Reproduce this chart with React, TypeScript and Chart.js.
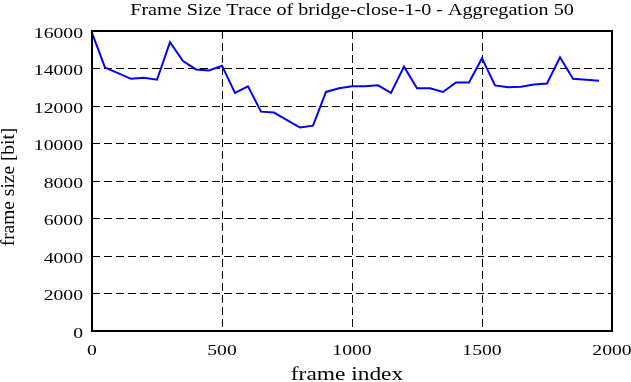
import React, { useEffect, useRef } from "react";
import { Chart, registerables } from "chart.js";

Chart.register(...registerables);

const frameIndex: number[] = [
  0, 50, 100, 150, 200, 250, 300, 350, 400, 450,
  500, 550, 600, 650, 700, 750, 800, 850, 900, 950,
  1000, 1050, 1100, 1150, 1200, 1250, 1300, 1350, 1400, 1450,
  1500, 1550, 1600, 1650, 1700, 1750, 1800, 1850, 1900, 1950,
];
const frameSize: number[] = [
  15900, 14050, 13750, 13450, 13500, 13400, 15400, 14400, 13950, 13900,
  14150, 12700, 13050, 11700, 11650, 11250, 10850, 10950, 12750, 12950,
  13050, 13050, 13100, 12700, 14100, 12950, 12950, 12750, 13250, 13250,
  14550, 13100, 13000, 13030, 13150, 13200, 14600, 13450, 13400, 13350,
];
const xTicks: number[] = [0, 500, 1000, 1500, 2000];
const yTicks: number[] = [0, 2000, 4000, 6000, 8000, 10000, 12000, 14000, 16000];
const titleText = "Frame Size Trace of bridge-close-1-0 - Aggregation 50";
const xTitle = "frame index";
const yTitle = "frame size [bit]";

const FONT = '"Liberation Serif", "Times New Roman", serif';

function drawStretched(
  ctx: CanvasRenderingContext2D,
  text: string,
  x: number,
  y: number,
  size: number,
  sx: number,
  align: "left" | "center" | "right"
) {
  ctx.save();
  ctx.font = `${size}px ${FONT}`;
  ctx.fillStyle = "#000";
  ctx.textBaseline = "alphabetic";
  const w = ctx.measureText(text).width * sx;
  let left = x;
  if (align === "center") left = x - w / 2;
  else if (align === "right") left = x - w;
  ctx.translate(left, y);
  ctx.scale(sx, 1);
  ctx.textAlign = "left";
  ctx.fillText(text, 0, 0);
  ctx.restore();
}

const textPlugin = {
  id: "gnuplotText",
  afterDraw(chart: any) {
    const ctx: CanvasRenderingContext2D = chart.ctx;
    const area = chart.chartArea;
    const xs = chart.scales.x;
    const ys = chart.scales.y;
    ctx.save();
    ctx.strokeStyle = "#000";
    ctx.lineWidth = 2;
    ctx.setLineDash([]);
    ctx.strokeRect(area.left, area.top, area.right - area.left, area.bottom - area.top);
    ctx.restore();
    for (const v of xTicks) {
      drawStretched(ctx, String(v), xs.getPixelForValue(v), area.bottom + 24, 15.5, 1.27, "center");
    }
    for (const v of yTicks) {
      drawStretched(ctx, String(v), area.left - 9, ys.getPixelForValue(v) + 6.5, 15.5, 1.27, "right");
    }
    const cx = (area.left + area.right) / 2;
    drawStretched(ctx, titleText, cx, 14.5, 17.5, 1.15, "center");
    drawStretched(ctx, xTitle, cx - 5, area.bottom + 49, 18, 1.3, "center");
    ctx.save();
    ctx.translate(13.5, (area.top + area.bottom) / 2 + 6);
    ctx.rotate(-Math.PI / 2);
    ctx.font = `18.5px ${FONT}`;
    ctx.fillStyle = "#000";
    ctx.textAlign = "center";
    ctx.textBaseline = "alphabetic";
    ctx.scale(1.05, 1);
    ctx.fillText(yTitle, 0, 0);
    ctx.restore();
  },
};

export default function App() {
  const ref = useRef<HTMLCanvasElement | null>(null);
  useEffect(() => {
    if (!ref.current) return;
    const points = frameIndex.map((x, i) => ({ x, y: frameSize[i] }));
    const chart = new Chart(ref.current, {
      type: "line",
      data: {
        datasets: [
          {
            data: points,
            borderColor: "#0000ff",
            borderWidth: 2,
            pointRadius: 0,
            tension: 0,
            fill: false,
          },
        ],
      },
      options: {
        animation: false,
        responsive: true,
        maintainAspectRatio: false,
        layout: { padding: { left: 92, right: 19, top: 31, bottom: 51 } },
        plugins: { legend: { display: false }, title: { display: false }, tooltip: { enabled: false } },
        scales: {
          x: {
            type: "linear",
            min: 0,
            max: 2000,
            afterFit: (s: any) => { s.height = 0; },
            afterBuildTicks: (s: any) => { s.ticks = xTicks.map((v) => ({ value: v })); },
            ticks: { display: false },
            border: { display: false, dash: [8, 4] },
            grid: { color: "#000", lineWidth: 1, drawTicks: false },
          },
          y: {
            type: "linear",
            min: 0,
            max: 16000,
            afterFit: (s: any) => { s.width = 0; },
            afterBuildTicks: (s: any) => { s.ticks = yTicks.map((v) => ({ value: v })); },
            ticks: { display: false },
            border: { display: false, dash: [8, 4] },
            grid: { color: "#000", lineWidth: 1, drawTicks: false },
          },
        },
      },
      plugins: [textPlugin],
    } as any);
    return () => chart.destroy();
  }, []);
  return (
    <div style={{ position: "fixed", left: 0, top: 0, width: 631, height: 382, background: "#fff" }}>
      <canvas ref={ref} />
    </div>
  );
}
